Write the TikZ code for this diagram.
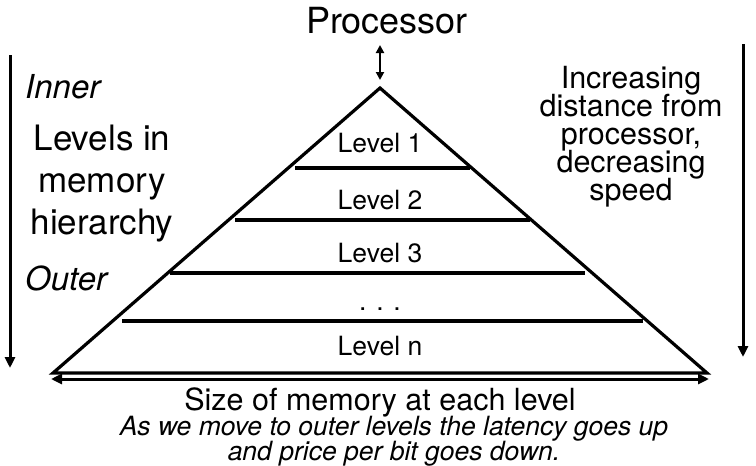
\documentclass[tikz,border=0pt]{standalone}
\usepackage{fontspec}
\setmainfont{TeX Gyre Heros}
\usetikzlibrary{arrows.meta}
\newcommand{\tightlines}{\lineskiplimit=-20pt\relax}

\begin{document}
\begin{tikzpicture}[
  x=1pt, y=-1pt,
  edge/.style={line width=3.2pt},
  arr/.style={line width=3pt, -{Triangle[length=11pt,width=10pt]}},
  darr/.style={line width=3pt, {Triangle[length=11pt,width=10pt]}-{Triangle[length=11pt,width=10pt]}},
  lvl/.style={font=\fontsize{26.5}{30}\selectfont, inner sep=0pt, anchor=base},
  big/.style={font=\fontsize{35}{42}\selectfont, inner sep=0pt, align=center},
  tag/.style={font=\fontsize{33}{38}\selectfont\itshape, inner sep=0pt, anchor=base west},
  side/.style={font=\fontsize{30.5}{28}\selectfont\tightlines, inner sep=0pt, align=center, anchor=north},
  note/.style={font=\fontsize{26.5}{25}\selectfont\itshape\tightlines, inner sep=0pt, align=center, anchor=north}
]
\useasboundingbox (0,0) rectangle (756,466);
% Pyramid
\coordinate (apex) at (380,88);
\coordinate (bl) at (53,373);
\coordinate (br) at (707,373);
\draw[edge] (apex) -- (bl) -- (br) -- cycle;
\foreach \y/\a/\b in {168/295/470, 220/235/530, 273/170/585, 321/122/643}
  \draw[edge] (\a,\y) -- (\b,\y);
\node[lvl] (l1) at (380,152) {Level 1};
\node[lvl] (l2) at (380,209) {Level 2};
\node[lvl] (l3) at (380,262) {Level 3};
\node[lvl] (ldots) at (380,310) {. . .};
\node[lvl] (ln) at (380,355) {Level n};
% Processor
\node[big, font=\fontsize{36}{42}\selectfont, anchor=base] (proc) at (387,33) {Processor};
\coordinate (pTop) at (380,45);
\coordinate (pBot) at (380,80);
\draw[line width=2.4pt, {Triangle[length=8pt,width=8pt]}-{Triangle[length=8pt,width=8pt]}] (pTop) -- (pBot);
% Left side
\coordinate (inTop) at (10,55);
\coordinate (inBot) at (10,368);
\draw[arr] (inTop) -- (inBot);
\node[tag] (inner) at (25,98) {Inner};
\node[big, anchor=north] (levels) at (102,125) {Levels in\\ memory\\ hierarchy};
\node[tag] (outer) at (25,290) {Outer};
% Right side
\coordinate (dTop) at (743,44);
\coordinate (dBot) at (743,357);
\draw[arr] (dTop) -- (dBot);
\node[side] (dist) at (631,66) {Increasing\\ distance from\\ processor,\\ decreasing\\ speed};
% Bottom
\coordinate (sL) at (51,379);
\coordinate (sR) at (709,379);
\draw[darr] (sL) -- (sR);
\node[big, font=\fontsize{30.5}{36}\selectfont, anchor=base] (size) at (380,410) {Size of memory at each level};
\node[note] (cost) at (394,416) {As we move to outer levels the latency goes up\\ and price per bit goes down.};
\end{tikzpicture}
\end{document}
